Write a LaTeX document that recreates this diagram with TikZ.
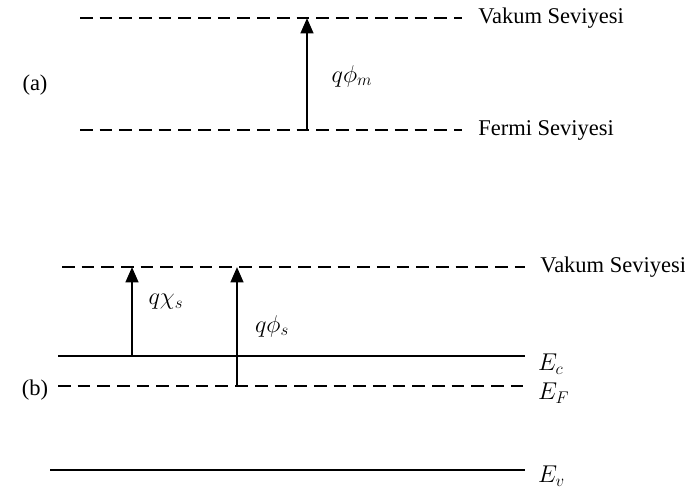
\documentclass[tikz,border=0pt]{standalone}
\usepackage{fontspec}
\setmainfont{Liberation Serif}
\usetikzlibrary{positioning, arrows.meta}

\begin{document}
\begin{tikzpicture}[
    x=0.025cm, y=-0.025cm,
    every node/.style={font=\fontsize{16}{19}\selectfont},
    levelline/.style={line width=1.9pt},
    dashline/.style={levelline, dash pattern=on 9pt off 5pt},
    workarrow/.style={line width=1.9pt, -{Triangle[width=9pt, length=11pt]}},
    levellabel/.style={anchor=west, inner sep=0pt},
    mathlabel/.style={font=\fontsize{18}{21}\selectfont}
]
\useasboundingbox (0,0) rectangle (685,488);

% (a) metal
\node (a) at (35,85) {(a)};
\coordinate (vacA-l) at (80,18);
\coordinate (vacA-r) at (462,18);
\coordinate (ferA-l) at (80,130);
\coordinate (ferA-r) at (462,130);
\draw[dashline] (vacA-l) -- (vacA-r);
\draw[dashline] (ferA-l) -- (ferA-r);
\node[levellabel, right=0.4cm of vacA-r] (vacA-txt) {Vakum Seviyesi};
\node[levellabel, right=0.4cm of ferA-r] (ferA-txt) {Fermi Seviyesi};
\coordinate (phim-b) at (307,130);
\coordinate (phim-t) at (307,18);
\draw[workarrow] (phim-b) -- (phim-t);
\node[mathlabel] (phim) at (352,76) {$q\phi_m$};

% (b) semiconductor
\node (b) at (35,390) {(b)};
\coordinate (vacB-l) at (62,267);
\coordinate (vacB-r) at (525,267);
\coordinate (ec-l) at (58,356);
\coordinate (ec-r) at (525,356);
\coordinate (ef-l) at (58,386);
\coordinate (ef-r) at (525,386);
\coordinate (ev-l) at (50,470);
\coordinate (ev-r) at (525,470);
\draw[dashline] (vacB-l) -- (vacB-r);
\draw[levelline] (ec-l) -- (ec-r);
\draw[dashline] (ef-l) -- (ef-r);
\draw[levelline] (ev-l) -- (ev-r);
\node[levellabel, right=0.38cm of vacB-r] (vacB-txt) {Vakum Seviyesi};
\node[levellabel, mathlabel, right=0.32cm of ec-r, yshift=-0.2cm] (ec-txt) {$E_c$};
\node[levellabel, mathlabel, right=0.32cm of ef-r, yshift=-0.18cm] (ef-txt) {$E_F$};
\node[levellabel, mathlabel, right=0.32cm of ev-r, yshift=-0.16cm] (ev-txt) {$E_v$};

\coordinate (chi-b) at (132,356);
\coordinate (chi-t) at (132,267);
\coordinate (phis-b) at (237,386);
\coordinate (phis-t) at (237,267);
\draw[workarrow] (chi-b) -- (chi-t);
\draw[workarrow] (phis-b) -- (phis-t);
\node[mathlabel] (chi) at (166,302) {$q\chi_s$};
\node[mathlabel] (phis) at (272,326) {$q\phi_s$};
\end{tikzpicture}
\end{document}
